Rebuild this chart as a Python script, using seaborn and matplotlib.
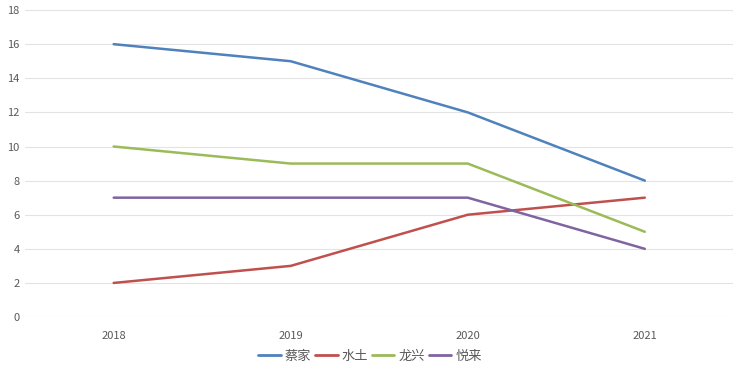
import pandas as pd
import matplotlib
matplotlib.use("Agg")
import matplotlib.pyplot as plt
import seaborn as sns

# Data
years = ["2018", "2019", "2020", "2021"]
towns = ["蔡家", "水土", "龙兴", "悦来"]
caijia = [16, 15, 12, 8]
shuitu = [2, 3, 6, 7]
longxing = [10, 9, 9, 5]
yuelai = [7, 7, 7, 4]

colors = ["#4F81BD", "#C0504D", "#9BBB59", "#8064A2"]

rows = []
for town, vals in zip(towns, [caijia, shuitu, longxing, yuelai]):
    for i, v in enumerate(vals):
        rows.append({"year": i, "town": town, "value": v})
df = pd.DataFrame(rows)

sns.set_theme(style="white")
plt.rcParams["font.family"] = ["Noto Sans CJK SC", "DejaVu Sans"]

fig = plt.figure(figsize=(7.4, 3.73), dpi=100)
ax = fig.add_axes([0.034, 0.150, 0.957, 0.823])

sns.lineplot(
    data=df,
    x="year",
    y="value",
    hue="town",
    palette=colors,
    linewidth=1.8,
    ax=ax,
    legend=False,
)

ax.set_xlim(-0.5, 3.5)
ax.set_ylim(0, 18)
ax.set_yticks(range(0, 19, 2))
ax.set_xticks(range(len(years)))
ax.set_xticklabels(years)
ax.grid(axis="y", color="#E3E3E3", linewidth=0.8)
ax.set_axisbelow(True)
for s in ax.spines.values():
    s.set_visible(False)
ax.tick_params(axis="both", length=0, labelsize=8, colors="#595959", pad=4)
ax.tick_params(axis="x", pad=10)
ax.set_xlabel("")
ax.set_ylabel("")

handles = [plt.Line2D([], [], color=c, linewidth=2) for c in colors]
fig.legend(
    handles,
    towns,
    loc="center",
    bbox_to_anchor=(0.5, 0.045),
    ncol=4,
    frameon=False,
    fontsize=9.5,
    labelcolor="#595959",
    handlelength=1.7,
    handletextpad=0.3,
    columnspacing=0.3,
)

fig.savefig("out.png", dpi=100)
